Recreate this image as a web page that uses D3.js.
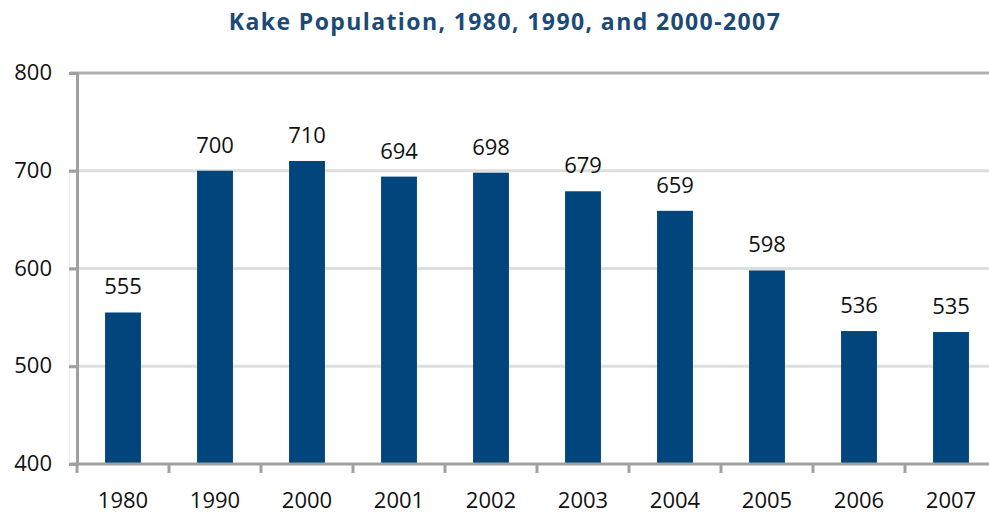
<!DOCTYPE html>
<html>
<head>
<meta charset="utf-8">
<script src="https://cdn.jsdelivr.net/npm/d3@7"></script>
<style>
  body { margin: 0; background: #fff; }
  svg { display: block; }
  text { font-family: "Open Sans", sans-serif; }
</style>
</head>
<body>
<svg id="chart"></svg>
<script>
// chart data
const years = ["1980", "1990", "2000", "2001", "2002", "2003", "2004", "2005", "2006", "2007"];
const population = [555, 700, 710, 694, 698, 679, 659, 598, 536, 535];
const yTicks = [400, 500, 600, 700, 800];
const titleText = "Kake Population, 1980, 1990, and 2000-2007";

const W = 989, H = 515;
// plot area (the right edge runs past the window, like the original)
const margin = { top: 73, left: 77 };
const plotRight = 997, plotBottom = 464;

const svg = d3.select("#chart").attr("width", W).attr("height", H);

const x = d3.scaleBand().domain(years).range([margin.left, plotRight]);
const y = d3.scaleLinear().domain([400, 800]).range([plotBottom, margin.top]);
const barW = x.bandwidth() * 0.39;

// title
svg.append("text")
  .attr("x", 505).attr("y", 30)
  .attr("text-anchor", "middle")
  .style("font-size", "23px").style("font-weight", "bold")
  .style("letter-spacing", "1.4px")
  .style("fill", "#1b4a78")
  .text(titleText);

// gridlines
svg.append("g")
  .selectAll("line")
  .data(yTicks.filter(d => d > 400 && d < 800))
  .join("line")
  .attr("x1", 69).attr("x2", W)
  .attr("y1", d => y(d)).attr("y2", d => y(d))
  .attr("stroke", "#dedede").attr("stroke-width", 3);

// faint left edge
svg.append("line")
  .attr("x1", 69.5).attr("x2", 69.5)
  .attr("y1", y(700)).attr("y2", plotBottom)
  .attr("stroke", "#ececec").attr("stroke-width", 1);

// top border
svg.append("line")
  .attr("x1", 70).attr("x2", W)
  .attr("y1", y(800)).attr("y2", y(800))
  .attr("stroke", "#b0b0b0").attr("stroke-width", 3);

// bars
svg.append("g")
  .selectAll("rect")
  .data(population)
  .join("rect")
  .attr("x", (d, i) => x(years[i]) + (x.bandwidth() - barW) / 2)
  .attr("width", barW)
  .attr("y", d => y(d))
  .attr("height", d => plotBottom - y(d))
  .attr("fill", "#00457b");

// value labels
svg.append("g")
  .selectAll("text")
  .data(population)
  .join("text")
  .attr("x", (d, i) => x(years[i]) + x.bandwidth() / 2)
  .attr("y", d => y(d) - 18)
  .attr("text-anchor", "middle")
  .style("font-size", "22px").style("fill", "#111")
  .text(d => d);

// Y axis
const yAxis = svg.append("g")
  .attr("transform", "translate(" + margin.left + ",0)")
  .call(d3.axisLeft(y).tickValues(yTicks).tickSize(8).tickPadding(17));
yAxis.select(".domain").attr("stroke", "#a0a0a0").attr("stroke-width", 3);
yAxis.selectAll(".tick line").attr("stroke", "#a0a0a0").attr("stroke-width", 3);
yAxis.selectAll(".tick text")
  .style("font-size", "22px").style("font-family", "'Open Sans', sans-serif")
  .attr("fill", "#111").attr("dy", "0.3em");

// X axis (ticks between the categories)
const xAxis = svg.append("g")
  .attr("transform", "translate(0," + plotBottom + ")")
  .call(d3.axisBottom(x).tickSize(0).tickPadding(28));
xAxis.select(".domain").remove();
xAxis.append("line")
  .attr("x1", 70).attr("x2", W)
  .attr("stroke", "#a0a0a0").attr("stroke-width", 3);
xAxis.selectAll(".sep")
  .data(years)
  .join("line")
  .attr("class", "sep")
  .attr("x1", d => x(d)).attr("x2", d => x(d))
  .attr("y1", 0).attr("y2", 9)
  .attr("stroke", "#a0a0a0").attr("stroke-width", 3);
xAxis.selectAll(".tick text")
  .style("font-size", "22px").style("font-family", "'Open Sans', sans-serif")
  .attr("fill", "#111");
</script>
</body>
</html>
